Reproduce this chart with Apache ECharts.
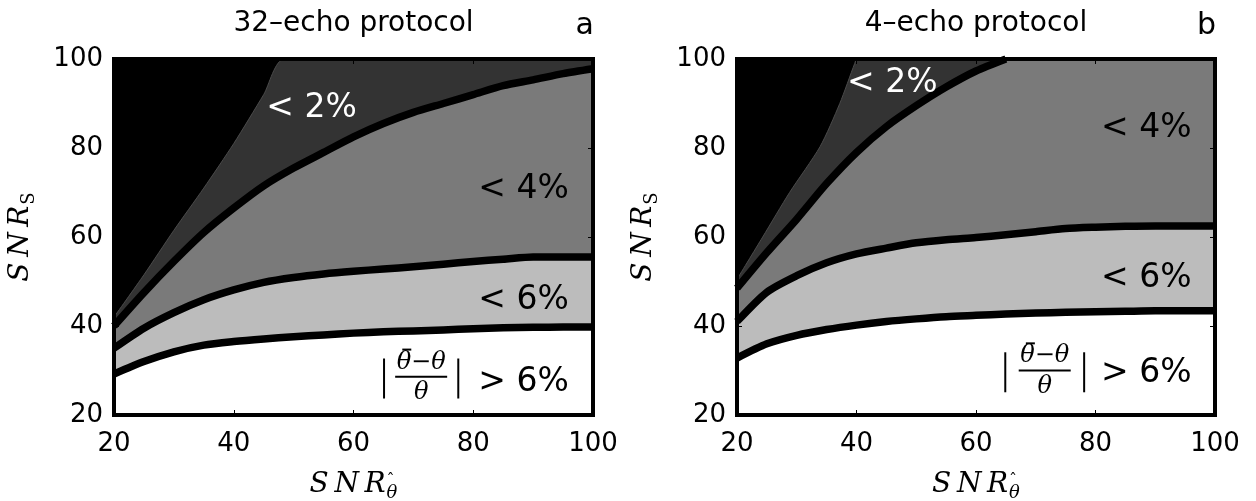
<!DOCTYPE html>
<html><head><meta charset="utf-8">
<script src="https://cdn.jsdelivr.net/npm/echarts@6/dist/echarts.min.js"></script>
<style>html,body{margin:0;padding:0;background:#fff}#c{width:1256px;height:501px}</style>
</head><body><div id="c"></div>
<script>
// ---- data ----
const titles = ['32\u2013echo protocol', '4\u2013echo protocol'];
const panelTags = ['a', 'b'];
const tickVals = [20, 40, 60, 80, 100];
const xs = [20,25,30,35,40,45,50,55,60,65,70,75,80,85,90,95,100];
// panel a (32-echo)
const aBlackX = [20, 25, 30, 35, 40, 45, 48.5, 100];
const aBlackY = [42, 51.5, 61.5, 71, 81, 92, 100, 100];
const a24 = [40,47.5,54.5,61,66.5,71.5,75.5,79,82.5,85.5,88,90,92,94,95.3,96.7,97.8];
const a46 = [35,39.5,43,45.9,48.1,49.8,50.9,51.7,52.3,52.8,53.3,53.9,54.5,55,55.5,55.5,55.5];
const a6w = [29.2,32,34.2,35.7,36.5,37.1,37.6,38,38.4,38.7,38.9,39.1,39.4,39.6,39.7,39.8,39.8];
// panel b (4-echo)
const bBlackX = [20, 24.3, 28.8, 33.9, 37.2, 39.7, 40.1, 100];
const bBlackY = [50.5, 60, 70, 80.3, 90, 99, 100, 100];
const b24 = [48.5,56.5,64,72,79,84.8,89.5,93.7,97.3,100,100,100,100,100,100,100,100];
const b46 = [41,47.6,51.3,54.2,56.2,57.5,58.7,59.4,59.9,60.5,61.2,61.9,62.2,62.4,62.5,62.5,62.5];
const b6w = [32.8,36,37.9,39.2,40.2,41,41.6,42.1,42.4,42.7,42.9,43.1,43.2,43.3,43.4,43.4,43.4];
const regionLabels = ['< 2%', '< 4%', '< 6%', '> 6%'];

// ---- styles ----
const C_DARK = '#333333', C_MID = '#7a7a7a', C_LIGHT = '#bcbcbc', C_WHITE = '#ffffff';
const SANS = 'DejaVu Sans', SERIF = 'DejaVu Serif';
const grids = [
  {left: 114, top: 59, width: 479, height: 356},
  {left: 737, top: 59, width: 478, height: 356}
];

function pts(x, y) { return x.map((v, i) => [v, y[i]]); }
function lineOnly(x, y) { // stop the drawn edge once it has left through the top
  const out = [];
  for (let i = 0; i < x.length; i++) { out.push([x[i], y[i]]); if (y[i] >= 100) break; }
  return out;
}
function area(gi, data, color, edge) {
  return {type: 'line', xAxisIndex: gi * 2, yAxisIndex: gi * 2, data, symbol: 'none', silent: true,
    smooth: 0.25, z: 2,
    lineStyle: edge ? {width: 1, color: '#4a4a4a'} : {width: 0},
    areaStyle: {color, opacity: 1, origin: 'start'}};
}
function edge(gi, data) {
  return {type: 'line', xAxisIndex: gi * 2, yAxisIndex: gi * 2, data, symbol: 'none', silent: true,
    smooth: 0.25, z: 4, clip: true,
    lineStyle: {width: 7.5, color: '#000', join: 'round'}};
}
function xAx(gi, pos) {
  const b = pos === 'bottom';
  return {type: 'value', gridIndex: gi, position: pos, min: 20, max: 100, interval: 20, z: 10,
    axisLine: {show: true, onZero: false, lineStyle: {color: '#000', width: 4, cap: 'square'}},
    axisTick: {show: true, inside: true, length: 5, lineStyle: {color: '#000', width: 1}},
    axisLabel: {show: b, margin: 16, color: '#000', fontFamily: SANS, fontSize: 26, showMinLabel: true, showMaxLabel: true},
    splitLine: {show: false},
    name: b ? '{i|S\u2009N\u2009R}{s|\u03b8}' : '', nameLocation: 'middle', nameGap: 53,
    nameTextStyle: {color: '#000', rich: {
      i: {fontFamily: SERIF, fontStyle: 'italic', fontSize: 28, color: '#000'},
      s: {fontFamily: SERIF, fontStyle: 'italic', fontSize: 18, color: '#000', padding: [16, 0, 0, 1]}}}};
}
function yAx(gi, pos) {
  const l = pos === 'left';
  return {type: 'value', gridIndex: gi, position: pos, min: 20, max: 100, interval: 20, z: 10,
    axisLine: {show: true, onZero: false, lineStyle: {color: '#000', width: 4, cap: 'square'}},
    axisTick: {show: true, inside: true, length: 5, lineStyle: {color: '#000', width: 1}},
    axisLabel: {show: l, margin: 11, color: '#000', fontFamily: SANS, fontSize: 26, showMinLabel: true, showMaxLabel: true},
    splitLine: {show: false},
    name: l ? '{i|S\u2009N\u2009R}{s|S}' : '', nameLocation: 'middle', nameGap: 76, nameRotate: 90,
    nameTextStyle: {color: '#000', rich: {
      i: {fontFamily: SERIF, fontStyle: 'italic', fontSize: 28, color: '#000'},
      s: {fontFamily: SERIF, fontSize: 18, color: '#000', padding: [16, 0, 0, 1]}}}};
}
function lab(x, y, text, color) {
  return {value: [x, y], label: {show: true, position: 'inside', formatter: text, color,
    fontFamily: SANS, fontSize: 33}};
}
function rich(x, y, fmt, richDef) {
  return {value: [x, y], label: {show: true, position: 'inside', formatter: fmt, rich: richDef}};
}
const vbar = {v: {width: 2, height: 40, backgroundColor: '#000'}};
const hbar = {h: {width: 52, height: 2, backgroundColor: '#000'}};
const mbar = {m: {width: 9, height: 2, backgroundColor: '#000'}};
const thetaStyle = {t: {fontFamily: SERIF, fontStyle: 'italic', fontSize: 24, color: '#000'}};
function annot(gi, p) {
  return {type: 'scatter', xAxisIndex: gi * 2, yAxisIndex: gi * 2, symbolSize: 1, silent: true, z: 20,
    itemStyle: {color: 'transparent', opacity: 1}, clip: false,
    data: [
      lab(p.l2[0], p.l2[1], regionLabels[0], '#fff'),
      lab(p.l4[0], p.l4[1], regionLabels[1], '#000'),
      lab(p.l6[0], p.l6[1], regionLabels[2], '#000'),
      lab(p.g6[0], p.g6[1], regionLabels[3], '#000'),
      rich(p.bl[0], p.bl[1], '{v|}', vbar),
      rich(p.br[0], p.bl[1], '{v|}', vbar),
      rich(p.fx, p.num, '{t|\u03b8\u2212\u03b8}', thetaStyle),
      rich(p.mac[0], p.mac[1], '{m|}', mbar),
      rich(p.fx, p.fb, '{h|}', hbar),
      rich(p.fx, p.den, '{t|\u03b8}', thetaStyle)
    ]};
}

const series = [
  area(0, pts(aBlackX, aBlackY), C_DARK, true),
  area(0, pts(xs, a24), C_MID),
  area(0, pts(xs, a46), C_LIGHT),
  area(0, pts(xs, a6w), C_WHITE),
  edge(0, lineOnly(xs, a24)),
  edge(0, pts(xs, a46)),
  edge(0, pts(xs, a6w)),
  annot(0, {l2: [53, 88.9], l4: [88.4, 70.6], l6: [88.4, 45.8], g6: [88.4, 27.3],
    bl: [65.1, 28.2], br: [77.5], fx: 71.3, num: 31.8, mac: [68.9, 34.7], fb: 28.6, den: 25.0}),
  area(1, pts(bBlackX, bBlackY), C_DARK, true),
  area(1, pts(xs, b24), C_MID),
  area(1, pts(xs, b46), C_LIGHT),
  area(1, pts(xs, b6w), C_WHITE),
  edge(1, lineOnly(xs, b24)),
  edge(1, pts(xs, b46)),
  edge(1, pts(xs, b6w)),
  annot(1, {l2: [46, 94.6], l4: [88.5, 84.3], l6: [88.5, 50.7], g6: [88.5, 29.4],
    bl: [64.9, 29.6], br: [78.1], fx: 71.5, num: 33.2, mac: [69.1, 36.1], fb: 30.0, den: 26.4})
];

const graphic = [];
grids.forEach((g, i) => {
  graphic.push({type: 'text', x: g.left + g.width / 2, y: 24, silent: true,
    style: {text: titles[i], fontFamily: SANS, fontSize: 28, fill: '#000', align: 'center', verticalAlign: 'middle'}});
  graphic.push({type: 'text', x: g.left + g.width + 1, y: 26, silent: true,
    style: {text: panelTags[i], fontFamily: SANS, fontSize: 30, fill: '#000', align: 'right', verticalAlign: 'middle'}});
  // circumflex over the subscript theta of the x-axis title
  graphic.push({type: 'text', x: g.left + g.width / 2 + 37, y: 481, silent: true,
    style: {text: '\u02c6', fontFamily: SERIF, fontSize: 16, fill: '#000', align: 'center', verticalAlign: 'middle'}});
});

const chart = echarts.init(document.getElementById('c'), null, {renderer: 'canvas'});
chart.setOption({
  animation: false,
  backgroundColor: '#fff',
  grid: grids.map(g => Object.assign({show: true, backgroundColor: '#000', borderWidth: 0, containLabel: false, outerBoundsMode: 'none'}, g)),
  xAxis: [xAx(0, 'bottom'), xAx(0, 'top'), xAx(1, 'bottom'), xAx(1, 'top')],
  yAxis: [yAx(0, 'left'), yAx(0, 'right'), yAx(1, 'left'), yAx(1, 'right')],
  series,
  graphic
});
</script></body></html>
